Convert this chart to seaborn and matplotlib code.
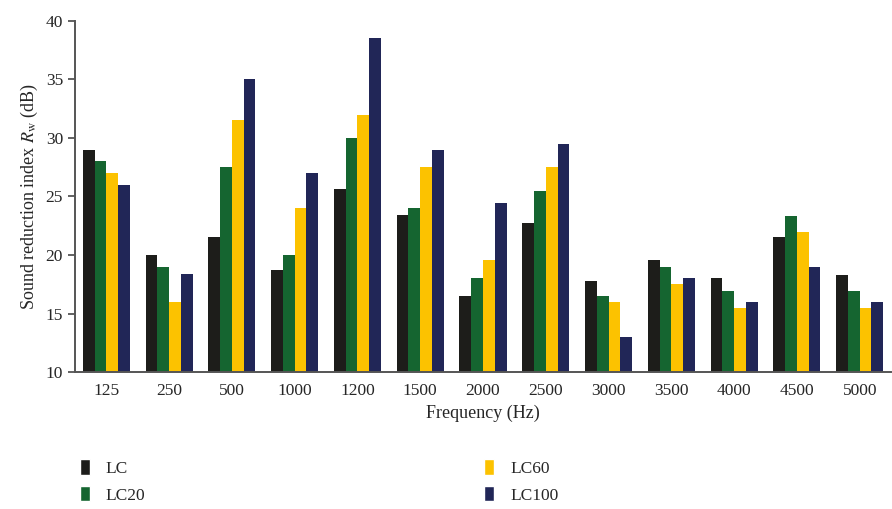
import pandas as pd
import matplotlib
matplotlib.use("Agg")
import matplotlib.pyplot as plt
import seaborn as sns
from matplotlib.patches import Patch

# values (dB)
freqs = ["125", "250", "500", "1000", "1200", "1500", "2000",
         "2500", "3000", "3500", "4000", "4500", "5000"]
lc = [29.0, 20.0, 21.5, 18.7, 25.6, 23.4, 16.5, 22.7, 17.8, 19.6, 18.0, 21.5, 18.3]
lc20 = [28.0, 19.0, 27.5, 20.0, 30.0, 24.0, 18.0, 25.5, 16.5, 19.0, 16.9, 23.3, 16.9]
lc60 = [27.0, 16.0, 31.5, 24.0, 32.0, 27.5, 19.6, 27.5, 16.0, 17.5, 15.5, 22.0, 15.5]
lc100 = [26.0, 18.4, 35.0, 27.0, 38.5, 29.0, 24.4, 29.5, 13.0, 18.0, 16.0, 19.0, 16.0]
series = ["LC", "LC20", "LC60", "LC100"]
colors = ["#1d1d1a", "#156530", "#fcc200", "#212657"]

# long format for seaborn
rows = []
for name, vals in zip(series, [lc, lc20, lc60, lc100]):
    for f, v in zip(freqs, vals):
        rows.append({"freq": f, "series": name, "value": v})
df = pd.DataFrame(rows)

sns.set_theme(style="white")
plt.rcParams['font.family'] = ['Liberation Serif', 'DejaVu Serif']
plt.rcParams['mathtext.fontset'] = 'stix'

fig = plt.figure(figsize=(8.92, 5.09), dpi=100)
ax = fig.add_axes([0.084, 0.269, 0.915, 0.690])

sns.barplot(data=df, x="freq", y="value", hue="series", order=freqs,
            hue_order=series, palette=colors, width=0.75, gap=0,
            linewidth=0, saturation=1, ax=ax, legend=False)

ax.set_ylim(10, 40)
ax.set_xlim(-0.5, 12.5)
ax.set_yticks(range(10, 41, 5))
ax.set_xlabel("Frequency (Hz)", fontsize=13)
ax.set_ylabel("Sound reduction index $R_\\mathrm{w}$ (dB)", fontsize=13)

# ticks between the groups, labels at centres
ax.set_xticks([i - 0.5 for i in range(14)], minor=True)
ax.tick_params(axis="x", which="major", length=0, labelsize=12.5, pad=8)
ax.tick_params(axis="x", which="minor", length=5, width=1.3, color="#555555", direction="out")
ax.tick_params(axis="y", length=5, width=1.3, color="#555555", direction="out", labelsize=12.5, left=True)

sns.despine(ax=ax)
for s in ["left", "bottom"]:
    ax.spines[s].set_color("#555555")
    ax.spines[s].set_linewidth(1.4)

handles = [Patch(facecolor=c, label=n) for n, c in zip(series, colors)]
fig.legend(handles=handles, ncol=2, loc="upper left", bbox_to_anchor=(0.072, 0.128),
           frameon=False, fontsize=12.5, handlelength=0.6, handleheight=1.0,
           handletextpad=0.9, columnspacing=19.5, labelspacing=0.5)

fig.savefig("out.png", dpi=100)
